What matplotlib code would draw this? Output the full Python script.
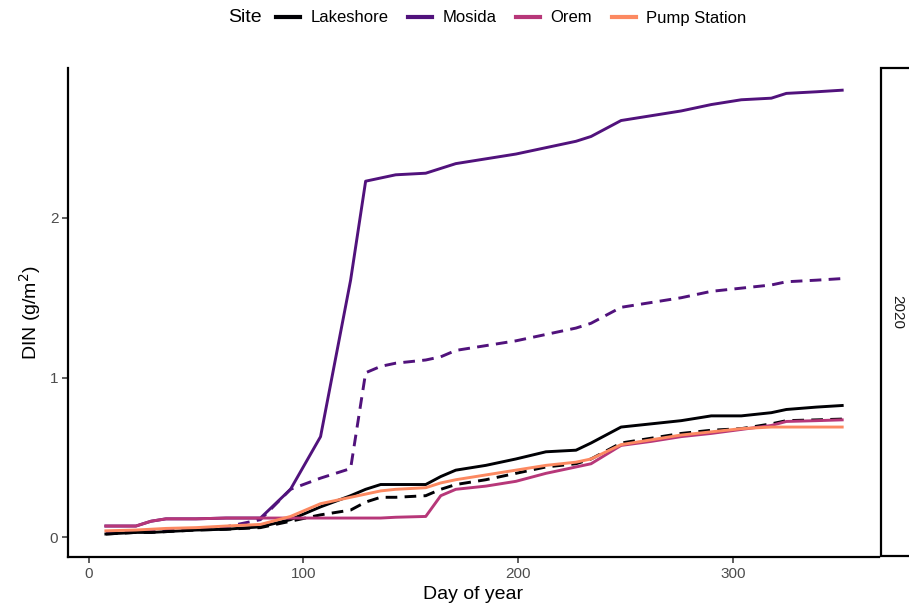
import matplotlib
matplotlib.use("Agg")
import matplotlib.pyplot as plt
from matplotlib.lines import Line2D
from matplotlib.patches import Rectangle

plt.rcParams['font.family'] = ['Liberation Sans', 'DejaVu Sans']

# Sampling days (day of year)
days = [8, 22, 29, 36, 50, 64, 80, 94, 108, 122, 129, 136, 143, 157, 164,
        171, 185, 199, 213, 227, 234, 248, 262, 276, 290, 304, 318, 325, 339, 351]

# Cumulative DIN (g/m^2) per site
lakeshore = [0.02, 0.03, 0.03, 0.035, 0.045, 0.05, 0.065, 0.11, 0.19, 0.26, 0.30, 0.33, 0.33, 0.33, 0.38,
             0.42, 0.45, 0.49, 0.535, 0.545, 0.59, 0.69, 0.71, 0.73, 0.76, 0.76, 0.78, 0.80, 0.815, 0.825]
lakeshore_alt = [0.02, 0.03, 0.03, 0.035, 0.045, 0.05, 0.06, 0.10, 0.14, 0.17, 0.22, 0.25, 0.25, 0.26, 0.30,
                 0.33, 0.36, 0.40, 0.44, 0.46, 0.49, 0.59, 0.62, 0.65, 0.67, 0.68, 0.71, 0.73, 0.735, 0.74]
mosida = [0.07, 0.07, 0.10, 0.115, 0.115, 0.12, 0.12, 0.30, 0.63, 1.61, 2.23, 2.25, 2.27, 2.28, 2.31,
          2.34, 2.37, 2.40, 2.44, 2.48, 2.51, 2.61, 2.64, 2.67, 2.71, 2.74, 2.75, 2.78, 2.79, 2.80]
mosida_alt = [0.025, 0.035, 0.04, 0.045, 0.055, 0.065, 0.11, 0.30, 0.37, 0.43, 1.03, 1.07, 1.09, 1.11, 1.13,
              1.17, 1.20, 1.23, 1.27, 1.31, 1.34, 1.44, 1.47, 1.50, 1.54, 1.56, 1.58, 1.60, 1.61, 1.62]
orem = [0.07, 0.07, 0.10, 0.115, 0.115, 0.12, 0.12, 0.12, 0.12, 0.12, 0.12, 0.12, 0.125, 0.13, 0.26,
        0.30, 0.32, 0.35, 0.40, 0.44, 0.46, 0.575, 0.60, 0.63, 0.65, 0.675, 0.70, 0.725, 0.73, 0.735]
pump = [0.04, 0.045, 0.05, 0.055, 0.06, 0.07, 0.08, 0.13, 0.21, 0.25, 0.27, 0.29, 0.30, 0.31, 0.34,
        0.36, 0.39, 0.42, 0.45, 0.47, 0.49, 0.58, 0.61, 0.64, 0.66, 0.68, 0.69, 0.69, 0.69, 0.69]

sites = ["Lakeshore", "Mosida", "Orem", "Pump Station"]
colors = {"Lakeshore": "#000004", "Mosida": "#51127C", "Orem": "#B73779", "Pump Station": "#FC8961"}

x_ticks = [0, 100, 200, 300]
y_ticks = [0, 1, 2]

fig = plt.figure(figsize=(9.09, 6.13), dpi=100)
ax = fig.add_axes([68 / 909, 56 / 613, (879 - 68) / 909, (557 - 68) / 613])

lw = 2.1
dash = (0, (4, 2.5))
# dashed series underneath, solid series on top
ax.plot(days, lakeshore_alt, color=colors["Lakeshore"], lw=lw, linestyle=dash, zorder=2)
ax.plot(days, mosida_alt, color=colors["Mosida"], lw=lw, linestyle=dash, zorder=2)
ax.plot(days, lakeshore, color=colors["Lakeshore"], lw=lw, solid_joinstyle='round', zorder=2)
ax.plot(days, mosida, color=colors["Mosida"], lw=lw, solid_joinstyle='round', zorder=2)
ax.plot(days, orem, color=colors["Orem"], lw=lw, solid_joinstyle='round', zorder=3)
ax.plot(days, pump, color=colors["Pump Station"], lw=lw, solid_joinstyle='round', zorder=3)

span = days[-1] - days[0]
ax.set_xlim(days[0] - 0.05 * span - 0.5, days[-1] + 0.05 * span)
ymin, ymax = 0.02, 2.80
ax.set_ylim(ymin - 0.05 * (ymax - ymin) - 0.005, ymax + 0.05 * (ymax - ymin))

ax.set_xticks(x_ticks)
ax.set_yticks(y_ticks)
for s in ["top", "right"]:
    ax.spines[s].set_visible(False)
for s in ["left", "bottom"]:
    ax.spines[s].set_linewidth(1.6)
    ax.spines[s].set_color("black")
ax.tick_params(axis="both", direction="out", length=4, width=1.1, color="#333333",
               labelsize=11, labelcolor="#4D4D4D", pad=3)

ax.set_xlabel("Day of year", fontsize=14, labelpad=4)
ax.set_ylabel("DIN (g/m$^2$)", fontsize=14, labelpad=5)

# Facet strip on the right
strip = Rectangle((881 / 909, 57 / 613), 40 / 909, (556 - 68) / 613, transform=fig.transFigure,
                  facecolor="white", edgecolor="black", linewidth=1.6, clip_on=False)
fig.add_artist(strip)
fig.text(897 / 909, 1 - 312 / 613, "2020", rotation=270, ha="center", va="center",
         fontsize=11, color="#1A1A1A")

# Legend along the top
fig.text(228 / 909, 1 - 18 / 613, "Site", fontsize=14, ha="left", va="center")
handles = [Line2D([0], [0], color=colors[s], lw=3) for s in sites]
fig.legend(handles, sites, loc="center left", bbox_to_anchor=(276 / 909, 1 - 18 / 613),
           ncol=4, frameon=False, fontsize=12, handlelength=1.45, handletextpad=0.6,
           columnspacing=1.2, borderaxespad=0, borderpad=0)

fig.savefig("out.png", dpi=100)
